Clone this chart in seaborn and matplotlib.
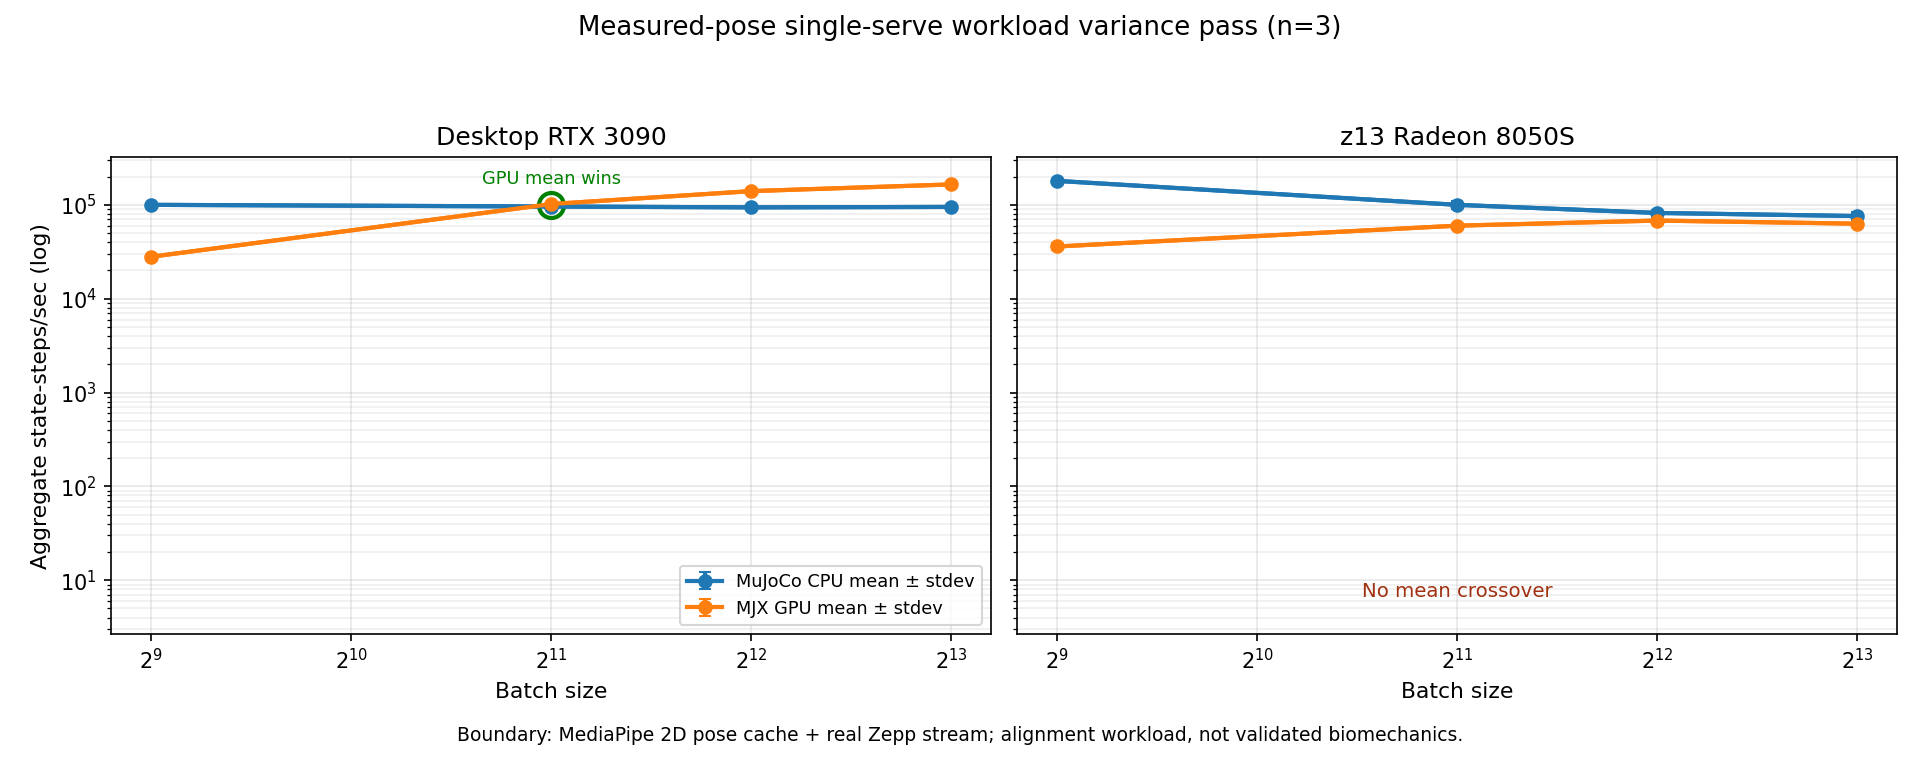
import matplotlib
matplotlib.use("Agg")
import matplotlib.pyplot as plt
import seaborn as sns
import numpy as np
import pandas as pd

batch = [512, 2048, 4096, 8192]
rtx_cpu = [1.0e5, 9.6e4, 9.4e4, 9.5e4]
rtx_cpu_sd = [2e3, 2e3, 2e3, 2e3]
rtx_gpu = [2.8e4, 1.02e5, 1.4e5, 1.65e5]
rtx_gpu_sd = [1e3, 3e3, 4e3, 4e3]
z13_cpu = [1.8e5, 1.0e5, 8.2e4, 7.6e4]
z13_cpu_sd = [4e3, 9e3, 7e3, 7e3]
z13_gpu = [3.6e4, 6.0e4, 6.8e4, 6.3e4]
z13_gpu_sd = [3e3, 3e3, 3e3, 3e3]
titles = ["Desktop RTX 3090", "z13 Radeon 8050S"]

BLUE, ORANGE = "#1f77b4", "#ff7f0e"
fig, axes = plt.subplots(1, 2, figsize=(12.8, 5.12), dpi=150, sharey=True)
panels = [(rtx_cpu, rtx_cpu_sd, rtx_gpu, rtx_gpu_sd), (z13_cpu, z13_cpu_sd, z13_gpu, z13_gpu_sd)]
for ax, (c, cs, g, gs), t in zip(axes, panels, titles):
    ax.errorbar(batch, c, yerr=cs, color=BLUE, marker="o", lw=2, capsize=3, label="MuJoCo CPU mean ± stdev")
    ax.errorbar(batch, g, yerr=gs, color=ORANGE, marker="o", lw=2, capsize=3, label="MJX GPU mean ± stdev")
    df = pd.DataFrame({"b": batch * 2, "v": c + g, "s": ["c"] * 4 + ["g"] * 4})
    sns.lineplot(data=df, x="b", y="v", hue="s", palette=[BLUE, ORANGE], marker="o",
                 markeredgewidth=0, lw=2, ax=ax, legend=False)
    ax.set_xscale("log", base=2)
    ax.set_yscale("log")
    ax.set_xticks(batch[:1] + [1024] + batch[1:])
    ax.set_ylim(2.7, 3.2e5)
    ax.grid(True, which="major", alpha=0.3)
    ax.grid(True, which="minor", axis="y", alpha=0.2)
    ax.set_title(t, fontsize=12)
    ax.set_xlabel("Batch size", fontsize=10.5)
    ax.set_ylabel("")
axes[0].set_ylabel("Aggregate state-steps/sec (log)", fontsize=10.5)
axes[0].plot([2048], [1.0e5], "o", ms=12, mfc="none", mec="green", mew=2)
axes[0].annotate("GPU mean wins", (2048, 1.0e5), xytext=(0, 10), textcoords="offset points",
                 ha="center", fontsize=8.5, color="green")
axes[1].text(2048, 7.5, "No mean crossover", ha="center", va="center", fontsize=9.5, color="#a0300f")
axes[0].legend(loc="lower right", fontsize=8.5)
fig.suptitle("Measured-pose single-serve workload variance pass (n=3)", fontsize=12.5)
fig.text(0.5, 0.035, "Boundary: MediaPipe 2D pose cache + real Zepp stream; alignment workload, not validated biomechanics.",
         ha="center", fontsize=9)
fig.subplots_adjust(left=0.058, right=0.988, top=0.795, bottom=0.175, wspace=0.03)
fig.savefig("out.png")
